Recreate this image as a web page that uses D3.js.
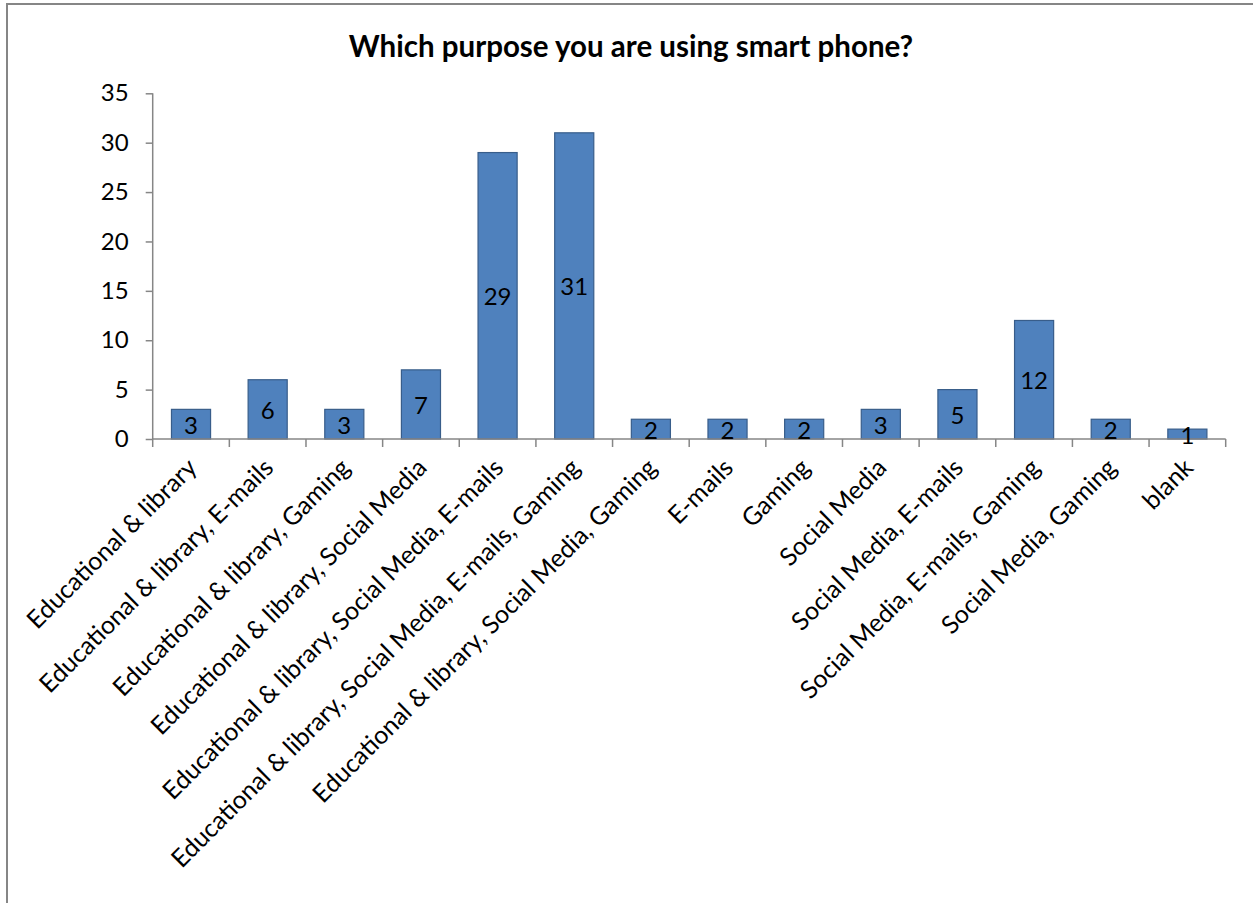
<!DOCTYPE html>
<html>
<head>
<meta charset="utf-8">
<script src="https://cdn.jsdelivr.net/npm/d3@7"></script>
<style>
  html, body { margin: 0; padding: 0; background: #fff; }
  svg { display: block; }
  text { font-family: Lato, "Open Sans", sans-serif; fill: #000; }
</style>
</head>
<body>
<svg id="chart" width="1253" height="903"></svg>
<script>
const title = "Which purpose you are using smart phone?";
const categories = [
  "Educational & library",
  "Educational & library, E-mails",
  "Educational & library, Gaming",
  "Educational & library, Social Media",
  "Educational & library, Social Media, E-mails",
  "Educational & library, Social Media, E-mails, Gaming",
  "Educational & library, Social Media, Gaming",
  "E-mails",
  "Gaming",
  "Social Media",
  "Social Media, E-mails",
  "Social Media, E-mails, Gaming",
  "Social Media, Gaming",
  "blank"
];
const counts = [3, 6, 3, 7, 29, 31, 2, 2, 2, 3, 5, 12, 2, 1];
const yTicks = [0, 5, 10, 15, 20, 25, 30, 35];

const svg = d3.select("#chart");
const axisColor = "#868686";

// outer chart frame
svg.append("rect")
  .attr("x", 7).attr("y", 4)
  .attr("width", 1270).attr("height", 920)
  .attr("fill", "none")
  .attr("stroke", axisColor)
  .attr("stroke-width", 2);

const plot = { left: 152.7, right: 1225.7, top: 93.3, bottom: 439 };

const x = d3.scaleBand()
  .domain(categories)
  .range([plot.left, plot.right])
  .paddingInner(0.49)
  .paddingOuter(0.245);

const y = d3.scaleLinear()
  .domain([0, 35])
  .range([plot.bottom, plot.top]);

// title
svg.append("text")
  .attr("x", 631).attr("y", 57)
  .attr("text-anchor", "middle")
  .style("font-size", "29.5px")
  .style("font-weight", "bold")
  .text(title);

// bars
svg.append("g").selectAll("rect")
  .data(categories)
  .join("rect")
  .attr("x", d => x(d))
  .attr("width", x.bandwidth())
  .attr("y", (d, i) => y(counts[i]))
  .attr("height", (d, i) => y(0) - y(counts[i]))
  .attr("fill", "#4F81BD")
  .attr("stroke", "#385D8A")
  .attr("stroke-width", 1.2);

// y axis
const yAxis = svg.append("g")
  .attr("transform", `translate(${plot.left},0)`)
  .call(d3.axisLeft(y).tickValues(yTicks).tickSize(7).tickPadding(17).tickFormat(d3.format("d")));
yAxis.select(".domain").attr("stroke", axisColor).attr("stroke-width", 1.5)
  .attr("d", `M0,${plot.top}V${plot.bottom}`);
yAxis.selectAll(".tick line").attr("stroke", axisColor).attr("stroke-width", 1.5);
yAxis.selectAll(".tick text")
  .style("font-size", "24px")
  .style("font-family", "Lato, 'Open Sans', sans-serif")
  .attr("fill", "#000");

// x axis line with boundary ticks between categories
const xg = svg.append("g");
xg.append("line")
  .attr("x1", plot.left).attr("x2", plot.right)
  .attr("y1", plot.bottom).attr("y2", plot.bottom)
  .attr("stroke", axisColor).attr("stroke-width", 1.5);
const step = x.step();
const boundaries = d3.range(categories.length + 1).map(i => plot.left + i * step);
xg.selectAll("line.tick")
  .data(boundaries)
  .join("line")
  .attr("class", "tick")
  .attr("x1", d => d).attr("x2", d => d)
  .attr("y1", plot.bottom).attr("y2", plot.bottom + 8)
  .attr("stroke", axisColor).attr("stroke-width", 1.5);

// rotated category labels
xg.selectAll("text")
  .data(categories)
  .join("text")
  .attr("transform", d => `translate(${x(d) + x.bandwidth() / 2 - 6},${plot.bottom + 17}) rotate(-45)`)
  .attr("text-anchor", "end")
  .attr("dy", "0.75em")
  .style("font-size", "25px")
  .text(d => d);

// value labels centred in each bar
svg.append("g").selectAll("text")
  .data(categories)
  .join("text")
  .attr("x", d => x(d) + x.bandwidth() / 2)
  .attr("y", (d, i) => (y(counts[i]) + y(0)) / 2)
  .attr("text-anchor", "middle")
  .attr("dominant-baseline", "central")
  .style("font-size", "24px")
  .text((d, i) => counts[i]);
</script>
</body>
</html>
